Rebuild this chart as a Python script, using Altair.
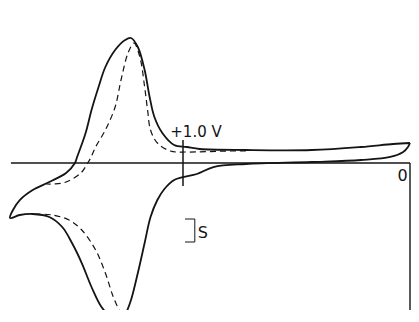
import altair as alt
import pandas as pd

# Solid voltammogram (potential in V, current in µA), closed loop
solid_v = [0.000, 0.074, 0.216, 0.433, 0.723, 0.926, 0.983, 1.039, 1.091, 1.126,
           1.147, 1.169, 1.199, 1.229, 1.255, 1.299, 1.342, 1.372, 1.403, 1.429,
           1.468, 1.476, 1.515, 1.589, 1.662, 1.719, 1.749, 1.762, 1.719, 1.662,
           1.589, 1.532, 1.489, 1.446, 1.403, 1.359, 1.316, 1.273, 1.251, 1.229,
           1.199, 1.169, 1.143, 1.113, 1.082, 1.039, 1.000, 0.939, 0.866, 0.723,
           0.433, 0.216, 0.087, 0.030, 0.009, 0.000]
solid_i = [8.70, 8.26, 6.96, 5.65, 5.65, 6.09, 6.96, 7.83, 13.04, 20.00,
           28.70, 40.43, 50.43, 54.35, 53.48, 49.13, 41.74, 33.04, 23.04, 13.04,
           2.17, 0.00, -4.35, -8.26, -11.74, -16.09, -20.43, -23.91, -22.61, -22.17,
           -23.48, -27.83, -34.78, -43.48, -53.91, -62.61, -66.96, -68.70, -65.22, -59.57,
           -47.83, -34.78, -23.48, -16.09, -11.30, -7.39, -6.09, -4.78, -1.74, -0.43,
           0.43, 1.30, 2.61, 4.78, 6.96, 8.70]

# Dashed voltammogram: anodic part
dash_a_v = [0.723, 0.797, 0.983, 1.056, 1.113, 1.143, 1.156, 1.169, 1.190, 1.216,
            1.242, 1.273, 1.299, 1.342, 1.385, 1.407, 1.420, 1.450, 1.515, 1.567, 1.602]
dash_a_i = [5.22, 5.22, 4.78, 5.22, 8.70, 14.35, 23.04, 33.04, 46.09, 52.17,
            47.83, 36.09, 24.35, 14.35, 6.96, 2.17, 0.00, -4.35, -8.26, -9.13, -9.13]
# Dashed voltammogram: cathodic part
dash_c_v = [1.654, 1.576, 1.502, 1.446, 1.385, 1.342, 1.307, 1.277, 1.260, 1.247]
dash_c_i = [-22.17, -22.61, -24.78, -29.13, -37.83, -47.83, -58.26, -64.78, -67.39, -63.91]

# Reference lines and marks
zero_line_v = [1.758, 0.000]
right_edge_v = 0.0
right_edge_i = [0.0, -75.0]
tick_v = 1.0
tick_i = [10.0, -10.0]
scale_v = 0.948
scale_tick_v = [0.991, 0.948]
scale_i = [-24.35, -34.35]   # scale bar S = 10 µA

labels = ["+1.0 V", "0", "S"]
label_v = [1.056, 0.0325, 0.935]
label_i = [11.3, -7.8, -32.6]
label_size = [15, 16, 16]
label_align = ["left", "center", "left"]

XD = [-0.0044, 1.7709]
YD = [-63.91, 67.39]
xs = alt.Scale(domain=XD, reverse=True, nice=False, zero=False)
ys = alt.Scale(domain=YD, nice=False, zero=False)
INK = "#141414"

def curve_df(vs, cs, name):
    return pd.DataFrame({"V": vs, "I": cs, "k": list(range(len(vs))), "seg": name})

X = lambda: alt.X("V:Q", scale=xs, axis=None)
Y = lambda: alt.Y("I:Q", scale=ys, axis=None)

solid = alt.Chart(curve_df(solid_v, solid_i, "solid")).mark_line(
    color=INK, strokeWidth=1.8, interpolate="catmull-rom", clip=True
).encode(x=X(), y=Y(), order="k:Q")

dashed_df = pd.concat([curve_df(dash_a_v, dash_a_i, "a"), curve_df(dash_c_v, dash_c_i, "c")])
dashed = alt.Chart(dashed_df).mark_line(
    color=INK, strokeWidth=1.2, strokeDash=[6, 4], interpolate="catmull-rom", clip=True
).encode(x=X(), y=Y(), order="k:Q", detail="seg:N")

zero_line = alt.Chart(pd.DataFrame({"V": [zero_line_v[0]], "V2": [zero_line_v[1]], "I": [0.0]})).mark_rule(
    color=INK, strokeWidth=1.7
).encode(x=X(), x2="V2:Q", y=Y())

vert_df = pd.DataFrame({
    "V": [right_edge_v, tick_v, scale_v],
    "I": [right_edge_i[0], tick_i[0], scale_i[0]],
    "I2": [right_edge_i[1], tick_i[1], scale_i[1]],
    "w": [1.4, 1.5, 1.0],
})
verts = alt.Chart(vert_df).mark_rule(color=INK, clip=True).encode(
    x=X(), y=Y(), y2="I2:Q",
    strokeWidth=alt.StrokeWidth("w:Q", scale=None, legend=None),
)

sb_df = pd.DataFrame({"V": [scale_tick_v[0]] * 2, "V2": [scale_tick_v[1]] * 2, "I": scale_i})
sb = alt.Chart(sb_df).mark_rule(color=INK, strokeWidth=1.0).encode(x=X(), x2="V2:Q", y=Y())

lab_df = pd.DataFrame({"t": labels, "V": label_v, "I": label_i, "s": label_size, "a": label_align})
texts = []
for al in ["left", "center"]:
    texts.append(
        alt.Chart(lab_df[lab_df["a"] == al]).mark_text(
            align=al, baseline="alphabetic", color=INK, font="DejaVu Sans"
        ).encode(
            x=X(), y=Y(), text="t:N",
            size=alt.Size("s:Q", scale=None, legend=None),
        )
    )

chart = alt.layer(zero_line, verts, sb, dashed, solid, *texts).properties(
    width=403, height=302, padding=0, autosize=alt.AutoSizeParams(type="none"),
    background="white",
).configure_view(stroke=None)

chart.save("out.html", embed_options={"renderer": "svg", "actions": False})
